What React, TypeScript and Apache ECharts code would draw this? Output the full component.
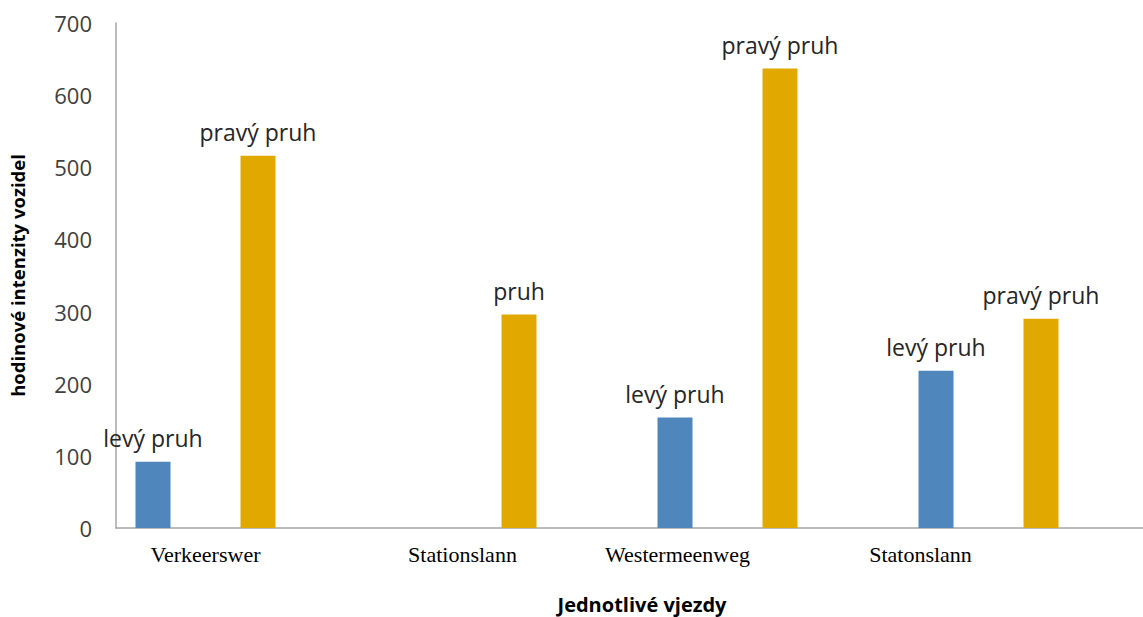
import React, { useEffect, useRef } from "react";
import * as echarts from "echarts";

const categories = ["Verkeerswer", "Stationslann", "Westermeenweg", "Statonslann"];
const leftLane: (number | null)[] = [92, null, 153, 218];
const rightLane: number[] = [516, 296, 637, 290];
const leftLabels = ["levý pruh", "", "levý pruh", "levý pruh"];
const rightLabels = ["pravý pruh", "pruh", "pravý pruh", "pravý pruh"];
const yMin = 0;
const yMax = 700;
const yStep = 100;
const xTitle = "Jednotlivé vjezdy";
const yTitle = "hodinové intenzity vozidel";

const SANS = "'Open Sans', 'Noto Sans', sans-serif";
const SERIF = "'Liberation Serif', 'Times New Roman', serif";

export default function App() {
  const ref = useRef<HTMLDivElement>(null);
  useEffect(() => {
    if (!ref.current) return;
    const chart = echarts.init(ref.current, undefined, { renderer: "svg" });
    // horizontal shift (px) of each category label, as in the reference
    const labelShift = [0, -4, -50, -68];
    const option: any = {
      animation: false,
      backgroundColor: "#ffffff",
      title: {
        text: xTitle,
        left: 642,
        top: 592,
        padding: 0,
        textAlign: "center",
        textStyle: { fontFamily: SANS, fontSize: 20, lineHeight: 24, fontWeight: "bold", color: "#000" },
      },
      grid: [
        { left: 75, right: 24, top: 23, bottom: 89 },
        { left: 109, right: 0, top: 23, bottom: 89 },
      ],
      xAxis: [
        {
          type: "category",
          gridIndex: 0,
          data: categories.map((c, i) => ({
            value: c,
            textStyle: {
              padding: labelShift[i] < 0 ? [0, -2 * labelShift[i], 0, 0] : [0, 0, 0, 2 * labelShift[i]],
            },
          })),
          axisLine: { show: false },
          axisTick: { show: false },
          axisLabel: { margin: 15, fontFamily: SERIF, fontSize: 22, color: "#000", interval: 0 },
        },
        {
          type: "value",
          gridIndex: 1,
          min: 0,
          max: 1,
          axisLine: { show: true, onZero: false, lineStyle: { color: "#a6a6a6", width: 1.5 } },
          axisTick: { show: false },
          axisLabel: { show: false },
          splitLine: { show: false },
        },
      ],
      yAxis: [
        {
          type: "value",
          gridIndex: 0,
          min: yMin,
          max: yMax,
          interval: yStep,
          show: false,
        },
        {
          type: "value",
          gridIndex: 1,
          min: yMin,
          max: yMax,
          interval: yStep,
          axisLine: { show: true, lineStyle: { color: "#a6a6a6", width: 1.5 } },
          axisTick: { show: false },
          splitLine: { show: false },
          axisLabel: { margin: 24, fontFamily: SANS, fontSize: 22, color: "#404040" },
          name: yTitle,
          nameLocation: "middle",
          nameGap: 89,
          nameTextStyle: { fontFamily: SANS, fontSize: 18.5, fontWeight: "bold", color: "#000" },
        },
      ],
      series: [
        {
          type: "bar",
          xAxisIndex: 0,
          yAxisIndex: 0,
          barWidth: 35,
          barGap: "200%",
          itemStyle: { color: "#4f87bd" },
          data: leftLane.map((v, i) => ({
            value: v,
            label: { formatter: leftLabels[i] },
          })),
          label: {
            show: true,
            position: "top",
            distance: 12,
            fontFamily: SANS,
            fontSize: 23,
            color: "#262626",
          },
        },
        {
          type: "bar",
          xAxisIndex: 0,
          yAxisIndex: 0,
          barWidth: 35,
          barGap: "200%",
          itemStyle: { color: "#e1a900" },
          data: rightLane.map((v, i) => ({
            value: v,
            label: { formatter: rightLabels[i] },
          })),
          label: {
            show: true,
            position: "top",
            distance: 12,
            fontFamily: SANS,
            fontSize: 23,
            color: "#262626",
          },
        },
      ],
    };
    chart.setOption(option);
    return () => chart.dispose();
  }, []);
  return (
    <div
      ref={ref}
      style={{ position: "fixed", left: 0, top: 0, width: 1143, height: 617 }}
    />
  );
}
